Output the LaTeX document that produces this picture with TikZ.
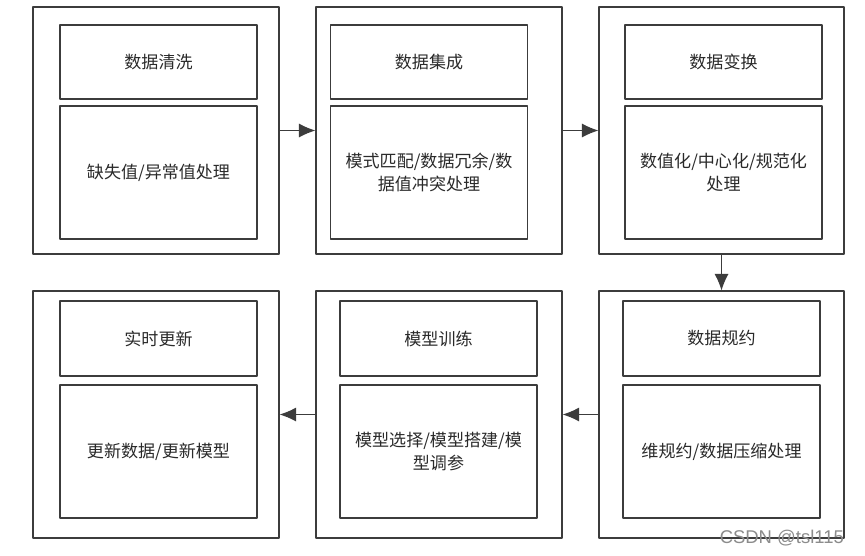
\documentclass[tikz,border=0pt]{standalone}
\usepackage{fontspec}
\usepackage{tikz}
\usetikzlibrary{arrows.meta, positioning}
\newfontfamily\cjk{Noto Sans CJK SC}
\newfontfamily\marksans{Liberation Sans}
\definecolor{stline}{HTML}{3C3C3C}
\definecolor{sttext}{HTML}{2A2A2A}

\begin{document}
\begin{tikzpicture}[
  x=1cm, y=1cm,
  font=\cjk\fontsize{9.7}{13}\selectfont,
  >=Latex,
  line cap=round, line join=round,
  stage/.style={draw=stline, line width=0.6pt, fill=white, minimum width=4.92cm, minimum height=4.94cm, inner sep=0pt},
  title/.style={draw=stline, line width=0.6pt, minimum width=3.94cm, minimum height=1.48cm, inner sep=0pt, text=sttext},
  body/.style={draw=stline, line width=0.6pt, minimum width=3.94cm, minimum height=2.66cm, inner sep=0pt, text=sttext, align=center},
  flow/.style={line width=0.6pt, draw=stline, -{Latex[length=3.3mm, width=2.8mm]}},
]
\path[fill=white] (0,0) rectangle (17.3,11.1);

% top row: outer stages
\node[stage] (clean) at (3.12,8.49) {};
\node[stage] (integ) at (8.78,8.49) {};
\node[stage, minimum width=4.90cm] (trans) at (14.43,8.49) {};

\node[title] (cleanT) at (3.17,9.86) {数据清洗};
\node[body]  (cleanB) at (3.17,7.65) {缺失值/异常值处理};
\node[title] (integT) at (8.58,9.86) {数据集成};
\node[body]  (integB) at (8.58,7.65) {模式匹配/数据冗余/数\\据值冲突处理};
\node[title] (transT) at (14.47,9.86) {数据变换};
\node[body]  (transB) at (14.47,7.65) {数值化/中心化/规范化\\处理};

% bottom row: outer stages
\node[stage, minimum width=4.90cm] (reduc) at (14.43,2.81) {};
\node[stage] (train) at (8.78,2.81) {};
\node[stage] (updat) at (3.12,2.81) {};

\node[title, minimum height=1.50cm] (reducT) at (14.43,4.33) {数据规约};
\node[body]  (reducB) at (14.43,2.07) {维规约/数据压缩处理};
\node[title, minimum height=1.50cm] (trainT) at (8.77,4.33) {模型训练};
\node[body]  (trainB) at (8.77,2.07) {模型选择/模型搭建/模\\型调参};
\node[title, minimum height=1.50cm] (updatT) at (3.17,4.33) {实时更新};
\node[body]  (updatB) at (3.17,2.07) {更新数据/更新模型};

% connectors
\draw[flow] (clean.east) -- (integ.west);
\draw[flow] (integ.east) -- (trans.west);
\draw[flow] (trans.south) -- (reduc.north);
\draw[flow] (reduc.west) -- (train.east);
\draw[flow] (train.west) -- (updat.east);

\node[font=\marksans\fontsize{10.5}{12}\selectfont, text=black!45, anchor=east] (mark) at (17.0,0.34) {CSDN @tsl115};
\end{tikzpicture}
\end{document}
